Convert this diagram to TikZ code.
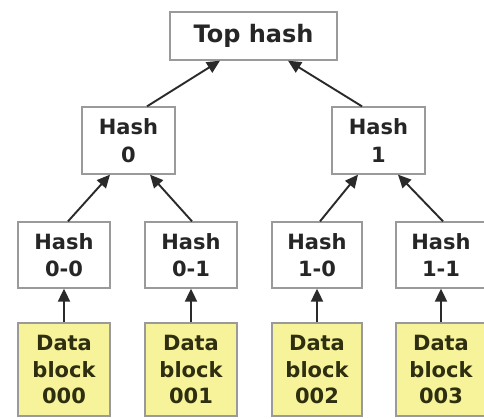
\documentclass[tikz,border=0pt]{standalone}
\usepackage{fontspec}
\setmainfont{DejaVu Sans}
\usetikzlibrary{arrows.meta}
\definecolor{boxborder}{HTML}{9A9A9A}
\definecolor{datafill}{HTML}{F7F39A}
\definecolor{datatext}{HTML}{2E2E10}
\definecolor{arrowcol}{HTML}{2A2A2A}
\begin{document}
\begin{tikzpicture}[x=1pt,y=-1pt,
  hashbox/.style={draw=boxborder,line width=1.3pt,fill=white,align=center,inner sep=0pt,
    font=\fontsize{21}{27.5}\selectfont\bfseries,text=black!85},
  databox/.style={hashbox,fill=datafill,text=datatext,font=\fontsize{21}{26.5}\selectfont\bfseries},
  arr/.style={draw=arrowcol,line width=1.9pt,-{Triangle[length=13pt,width=12pt]}}]
\useasboundingbox[fill=white] (0,0) rectangle (484,418);
\node[hashbox,minimum width=167pt,minimum height=48pt,font=\fontsize{24}{28}\selectfont\bfseries] (top) at (253.5,36) {Top hash};
\node[hashbox,minimum width=93pt,minimum height=67pt] (h0) at (128.5,140.5) {Hash\\0};
\node[hashbox,minimum width=93pt,minimum height=67pt] (h1) at (378.5,140.5) {Hash\\1};
\node[hashbox,minimum width=92pt,minimum height=66pt] (h00) at (64,255) {Hash\\0-0};
\node[hashbox,minimum width=92pt,minimum height=66pt] (h01) at (191,255) {Hash\\0-1};
\node[hashbox,minimum width=90pt,minimum height=66pt] (h10) at (317,255) {Hash\\1-0};
\node[hashbox,minimum width=90pt,minimum height=66pt] (h11) at (441,255) {Hash\\1-1};
\node[databox,minimum width=92pt,minimum height=93pt] (d0) at (64,369.5) {Data\\block\\000};
\node[databox,minimum width=92pt,minimum height=93pt] (d1) at (191,369.5) {Data\\block\\001};
\node[databox,minimum width=90pt,minimum height=93pt] (d2) at (317,369.5) {Data\\block\\002};
\node[databox,minimum width=90pt,minimum height=93pt] (d3) at (441,369.5) {Data\\block\\003};
\draw[arr] (d0.north) -- (h00.south);
\draw[arr] (d1.north) -- (h01.south);
\draw[arr] (d2.north) -- (h10.south);
\draw[arr] (d3.north) -- (h11.south);
\draw[arr] ([xshift=4pt]h00.north) -- ([xshift=-18.5pt]h0.south);
\draw[arr] ([xshift=1pt]h01.north) -- ([xshift=21.5pt]h0.south);
\draw[arr] ([xshift=3pt]h10.north) -- ([xshift=-20.5pt]h1.south);
\draw[arr] ([xshift=2pt]h11.north) -- ([xshift=19.5pt]h1.south);
\draw[arr] ([xshift=18.5pt]h0.north) -- ([xshift=-33.5pt]top.south);
\draw[arr] ([xshift=-16.5pt]h1.north) -- ([xshift=34.5pt]top.south);
\end{tikzpicture}
\end{document}
